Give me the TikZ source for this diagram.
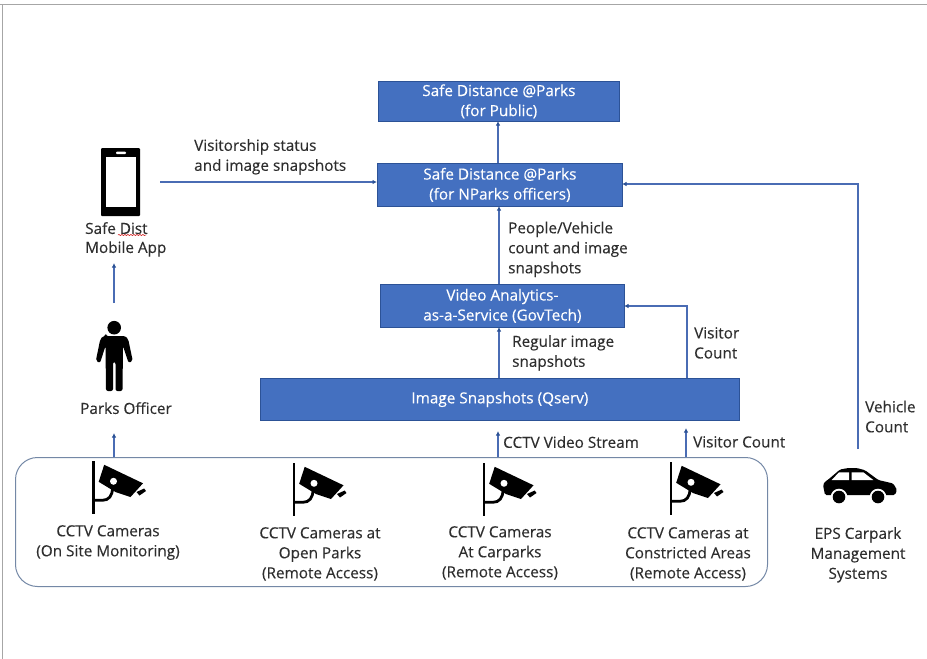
\documentclass[tikz,border=0pt]{standalone}
\usepackage{fontspec}
\setmainfont{Open Sans}[FakeBold=0.25]
\usetikzlibrary{arrows.meta,decorations.pathmorphing}
\definecolor{boxfill}{HTML}{4470C0}
\definecolor{boxline}{HTML}{2C5296}
\definecolor{conn}{HTML}{4A6CB4}
\definecolor{grpline}{HTML}{7488A6}
\definecolor{txt}{HTML}{2E2E2E}
\tikzset{
  x=1pt,y=-1pt,
  bluebox/.style={draw=boxline,fill=boxfill,line width=0.8pt,text=white,font=\fontsize{15.3}{20}\selectfont,align=center,inner sep=0pt,anchor=north west},
  lbl/.style={text=txt,font=\fontsize{15.3}{20}\selectfont,align=left,inner sep=0pt,anchor=north west},
  clbl/.style={text=txt,font=\fontsize{15.3}{20}\selectfont,align=center,inner sep=0pt,anchor=north},
  conn/.style={draw=conn,line width=1.1pt,-{Latex[length=4.5pt,width=4.5pt,color=boxline]}},
  pics/cctv/.style={code={
    \fill[black] (-1.4,0) rectangle (1.4,53);
    \draw[black,line width=2.8pt] (0,39.3) -- (9,39.3) .. controls (15,39.3) and (19,35) .. (19,27);
    \fill[black] (10.7,3.8) -- (49.5,22.3) -- (37,36) -- (22,31) -- (5.2,20.8) -- cycle;
    \fill[white] (20,20.3) circle (3.5);
    \fill[black] (43,31) -- (50.7,27.5) -- (52.5,30) -- (46,34.5) -- cycle;
  }}
}
\begin{document}
\begin{tikzpicture}
\useasboundingbox (0,0) rectangle (927,659);
\fill[white] (0,0) rectangle (927,659);
\draw[gray!70,line width=0.9pt] (0,4) -- (927,4);
\draw[gray!70,line width=0.9pt] (2,4) -- (2,659);

\node[bluebox,minimum width=241pt,minimum height=40pt] (pub) at (378,81) {Safe Distance @Parks\\(for Public)};
\node[bluebox,minimum width=245pt,minimum height=43pt] (npk) at (377,163) {Safe Distance @Parks\\(for NParks officers)};
\node[bluebox,minimum width=244pt,minimum height=43pt] (vaas) at (380,284) {Video Analytics-\\as-a-Service (GovTech)};
\node[bluebox,minimum width=479pt,minimum height=42pt] (img) at (260,378) {Image Snapshots (Qserv)};
\node[draw=grpline,line width=1pt,rounded corners=22pt,minimum width=752pt,minimum height=129pt,inner sep=0pt,anchor=north west] (grp) at (15,457) {};

% icons
\pic at (93.5,461) {cctv};
\pic at (294,463) {cctv};
\pic at (484,463) {cctv};
\pic at (671,462) {cctv};

% phone
\fill[black,rounded corners=1pt] (101,148) rectangle (140,216);
\fill[white] (106,157) rectangle (136,207);
\fill[white,rounded corners=1pt] (116,151.5) rectangle (126,154);

% person
\fill[black] (114.2,327.7) circle (6.8);
\fill[black,rounded corners=2pt] (106,336) -- (122.5,336) .. controls (126,336.5) and (128,338) .. (129,343) -- (132.8,361) -- (128.6,363) -- (123,346) -- (122.5,391) -- (115.5,391) -- (115.5,362) -- (113,362) -- (113,391) -- (106,391) -- (105.5,346) -- (100,363) -- (95.8,361) -- (99.5,343) .. controls (100.5,338) and (102.5,336.5) .. (106,336) -- cycle;

% car
\fill[black,rounded corners=1.5pt] (823,485) -- (825,481.7) -- (828.3,479.5) -- (840,469.5) -- (848.3,468) -- (856.7,468) -- (865,470.2) -- (878.3,480) -- (893.3,483.5) -- (897,490) -- (895,495) -- (825,495) -- cycle;
\fill[white] (831.7,480) -- (839,472.3) -- (849,472.3) -- (849,480) -- cycle;
\fill[white] (851.7,472.3) -- (863.3,472.3) -- (873.3,480) -- (851.7,480) -- cycle;
\fill[white] (839,497) circle (8.3);
\fill[white] (878,497) circle (8.3);
\fill[black] (839,497) circle (6.3);
\fill[black] (878,497) circle (6.3);

% labels
\node[lbl] (l1) at (194,139) {Visitorship status\\and image snapshots};
\node[lbl] (l2) at (85,222) {Safe Dist\\[-1pt]Mobile App};
\draw[red!80!black,line width=0.5pt,decorate,decoration={snake,amplitude=0.5pt,segment length=3pt}] (118,235) -- (146,235);
\node[clbl] (l3) at (126,402) {Parks Officer};
\node[lbl] (l4) at (508,221.5) {People/Vehicle\\count and image\\snapshots};
\node[lbl] (l5) at (512,335) {Regular image\\snapshots};
\node[lbl] (l6) at (694,327) {Visitor\\Count};
\node[lbl] (l7) at (865,400.5) {Vehicle\\Count};
\node[lbl] (l8) at (503,436) {CCTV Video Stream};
\node[lbl] (l9) at (693,436) {Visitor Count};
\node[clbl] (c1) at (108,525) {CCTV Cameras\\(On Site Monitoring)};
\node[clbl] (c2) at (320,527) {CCTV Cameras at\\Open Parks\\(Remote Access)};
\node[clbl] (c3) at (500,526) {CCTV Cameras\\At Carparks\\(Remote Access)};
\node[clbl] (c4) at (688,527) {CCTV Cameras at\\Constricted Areas\\(Remote Access)};
\node[clbl] (c5) at (858,527) {EPS Carpark\\Management\\Systems};

% connectors
\coordinate (vcFoot) at (858,449);
\coordinate (vcBend) at (858,184);
\coordinate (appOut) at (160,182);
\coordinate (npkW) at (377,182);
\coordinate (npkE) at (622,184);
\coordinate (pubS) at (498,121);
\coordinate (npkSouth) at (499,206);
\coordinate (npkB) at (498,163);
\coordinate (vaasN) at (499,284);
\coordinate (vaasS) at (499,327);
\coordinate (imgN) at (499,378);
\coordinate (imgN2) at (687,378);
\coordinate (vBend) at (687,306);
\coordinate (vaasE) at (624,306);
\coordinate (s1) at (498,457);
\coordinate (s1t) at (498,431);
\coordinate (s2) at (686,457);
\coordinate (s2t) at (686,428);
\coordinate (o1) at (114,457);
\coordinate (o1t) at (114,433);
\coordinate (o2) at (114,303);
\coordinate (o2t) at (114,263);
\draw[conn] (npkB) -- (pubS);
\draw[conn] (vaasN) -- (npkSouth);
\draw[conn] (imgN) -- (vaasS);
\draw[conn] (imgN2) -- (vBend) -- (vaasE);
\draw[conn] (vcFoot) -- (vcBend) -- (npkE);
\draw[conn] (appOut) -- (npkW);
\draw[conn] (s1) -- (s1t);
\draw[conn] (s2) -- (s2t);
\draw[conn] (o1) -- (o1t);
\draw[conn] (o2) -- (o2t);
\end{tikzpicture}
\end{document}
